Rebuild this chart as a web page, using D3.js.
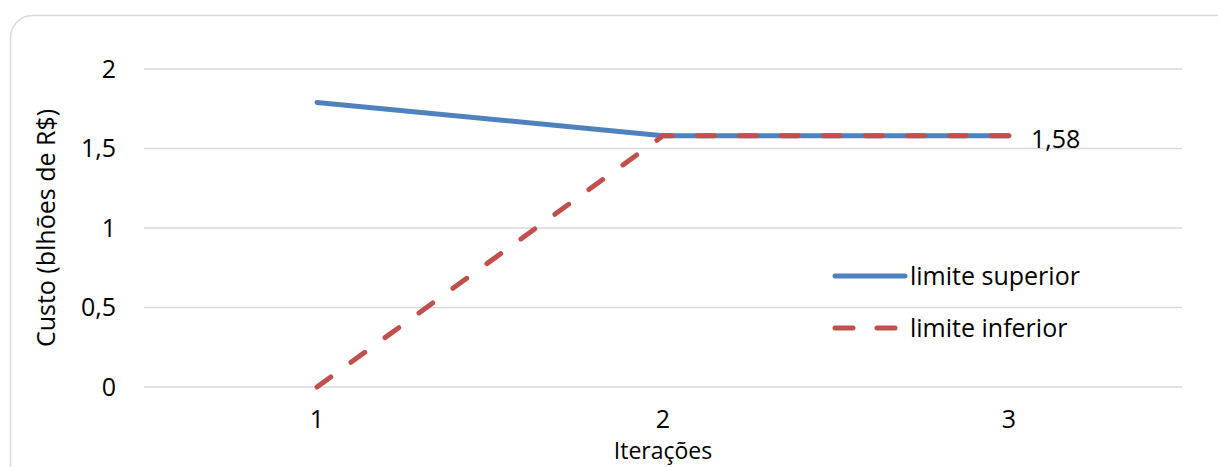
<!DOCTYPE html>
<html>
<head>
<meta charset="utf-8">
<script src="https://cdn.jsdelivr.net/npm/d3@7"></script>
<style>
  body { margin: 0; background: #fff; }
  text { font-family: "Open Sans", "Noto Sans", sans-serif; fill: #000; }
</style>
</head>
<body>
<svg class="chart" width="1218" height="467"></svg>
<script>
let iteracoes = [1, 2, 3];
let limiteSuperior = [1.79, 1.58, 1.58];
let limiteInferior = [0, 1.58, 1.58];
let yTicks = [0, 0.5, 1, 1.5, 2];
let yTickLabels = ['0', '0,5', '1', '1,5', '2'];
let seriesNames = ['limite superior', 'limite inferior'];

let margin = {left: 144, right: 36, top: 69, bottom: 80};
let width = 1218, height = 467;
let fontSize = '25px';

let svg = d3.select('svg.chart');

// outer frame (rounded, runs off the picture at the bottom/right)
svg.append('rect')
  .attr('x', 10.5).attr('y', 15.5)
  .attr('width', 1240).attr('height', 480)
  .attr('rx', 22)
  .style('fill', 'none')
  .style('stroke', '#d9d9d9')
  .style('stroke-width', '1.5px');

let x = d3.scaleBand()
  .domain(iteracoes)
  .range([margin.left, width - margin.right]);

let y = d3.scaleLinear()
  .domain([0, 2])
  .range([387, 69]);

// gridlines
svg.append('g')
  .selectAll('line')
  .data(yTicks)
  .enter()
  .append('line')
  .attr('x1', margin.left)
  .attr('x2', width - margin.right)
  .attr('y1', d => y(d))
  .attr('y2', d => y(d))
  .style('stroke', '#d9d9d9')
  .style('stroke-width', '1.5px');

// y tick labels
svg.append('g')
  .selectAll('text')
  .data(yTicks)
  .enter()
  .append('text')
  .attr('x', 116)
  .attr('y', d => y(d))
  .attr('dy', '0.35em')
  .attr('text-anchor', 'end')
  .style('font-size', fontSize)
  .text((d, i) => yTickLabels[i]);

// x tick labels
svg.append('g')
  .selectAll('text')
  .data(iteracoes)
  .enter()
  .append('text')
  .attr('x', d => x(d) + x.bandwidth() / 2)
  .attr('y', 419)
  .attr('dy', '0.35em')
  .attr('text-anchor', 'middle')
  .style('font-size', fontSize)
  .text(d => d);

// axis titles
svg.append('text')
  .attr('x', 663)
  .attr('y', 451)
  .attr('dy', '0.35em')
  .attr('text-anchor', 'middle')
  .style('font-size', '23px')
  .text('Iterações');

svg.append('text')
  .attr('transform', 'translate(46,228) rotate(-90)')
  .attr('dy', '0.35em')
  .attr('text-anchor', 'middle')
  .style('font-size', fontSize)
  .text('Custo (blhões de R$)');

let line = d3.line()
  .x((d, i) => x(iteracoes[i]) + x.bandwidth() / 2)
  .y(d => y(d));

svg.append('path')
  .datum(limiteSuperior)
  .attr('d', line)
  .style('fill', 'none')
  .style('stroke', '#4f81bd')
  .style('stroke-width', '5px')
  .style('stroke-linecap', 'round')
  .style('stroke-linejoin', 'round');

svg.append('path')
  .datum(limiteInferior)
  .attr('d', line)
  .style('fill', 'none')
  .style('stroke', '#c0504d')
  .style('stroke-width', '5px')
  .style('stroke-linecap', 'round')
  .style('stroke-dasharray', '17 25');

// data label on last point
let lastI = iteracoes.length - 1;
svg.append('text')
  .attr('x', x(iteracoes[lastI]) + x.bandwidth() / 2 + 22)
  .attr('y', y(limiteInferior[lastI]) + 3)
  .attr('dy', '0.35em')
  .style('font-size', fontSize)
  .text(limiteInferior[lastI].toString().replace('.', ','));

// legend
let legend = svg.append('g').attr('transform', 'translate(835,276)');
let legendItems = legend.selectAll('g')
  .data(seriesNames)
  .enter()
  .append('g')
  .attr('transform', (d, i) => `translate(0, ${i * 52})`);

legendItems.append('line')
  .attr('x1', 0).attr('x2', (d, i) => i == 0 ? 70 : 63)
  .attr('y1', 0).attr('y2', 0)
  .style('stroke', (d, i) => i == 0 ? '#4f81bd' : '#c0504d')
  .style('stroke-width', '5px')
  .style('stroke-linecap', 'round')
  .style('stroke-dasharray', (d, i) => i == 0 ? null : '18 24');

legendItems.append('text')
  .attr('x', 75)
  .attr('y', 0)
  .attr('dy', '0.35em')
  .style('font-size', fontSize)
  .text(d => d);
</script>
</body>
</html>
